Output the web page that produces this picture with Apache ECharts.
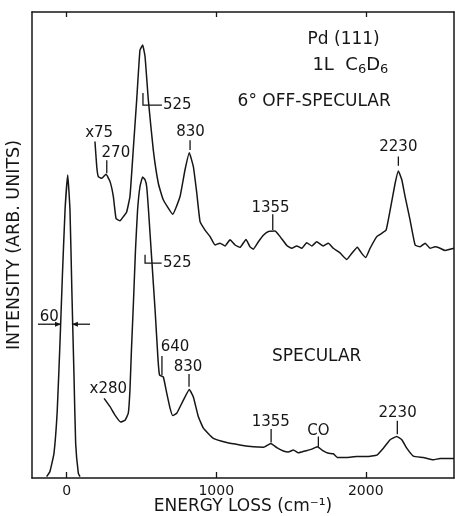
<!DOCTYPE html>
<html>
<head>
<meta charset="utf-8">
<script src="https://cdn.jsdelivr.net/npm/echarts@6/dist/echarts.min.js"></script>
<style>
html,body{margin:0;padding:0;background:#fff;}
#c{width:455px;height:516px;}
</style>
</head>
<body>
<div id="c"></div>
<script>
// ---- Data (energy loss in cm-1, intensity in arbitrary units 0..100) ----
const offSpecEnergy = [189,201,211,234,263,290,312,330,357,379,401,423,445,468,490,508,524,546,579,613,646,709,758,791,820,847,870,892,925,959,992,1025,1059,1092,1126,1159,1199,1226,1248,1282,1315,1349,1393,1427,1472,1505,1538,1572,1605,1639,1672,1716,1750,1783,1828,1873,1906,1944,1973,2000,2029,2074,2107,2136,2163,2196,2218,2241,2263,2296,2330,2363,2397,2430,2463,2497,2530,2564,2590];
const offSpecIntensity = [72.2,66.8,64.7,64.3,65.2,63.6,60.4,55.7,55.2,56.1,57.1,60.4,70.4,81.1,91.8,92.9,90.4,81.1,70.4,63.2,59.7,56.6,60.4,66.1,69.8,66.8,61.1,55.0,53.2,51.8,50.0,50.4,49.8,51.1,50.0,49.5,51.2,49.6,49.1,50.7,52.1,52.9,53.0,51.8,49.9,49.3,49.8,49.3,50.5,49.8,50.7,49.8,50.4,49.3,48.3,46.9,48.2,49.5,48.2,47.3,49.3,51.8,52.5,53.2,57.5,63.2,65.9,64.0,60.4,55.4,50.0,49.6,50.4,49.3,49.6,49.3,48.8,49.1,49.3];

const specEnergy = [250,290,323,361,390,412,423,433,447,460,474,490,508,524,535,547,569,591,611,621,646,669,691,709,736,780,820,847,880,914,981,1070,1159,1248,1315,1365,1405,1449,1482,1516,1549,1594,1639,1676,1716,1750,1783,1810,1873,1940,2007,2074,2118,2163,2207,2241,2274,2318,2385,2452,2497,2590];
const specIntensity = [17.1,15.3,13.5,12.0,12.4,13.9,18.9,27.5,38.2,48.9,57.5,62.5,64.6,64.0,62.5,57.5,46.8,36.1,25.3,22.1,21.7,18.2,15.0,13.4,13.9,16.7,19.0,17.4,13.2,10.7,8.5,7.6,7.1,6.7,6.6,7.4,6.5,5.8,5.6,6.0,5.4,5.8,6.2,6.7,5.8,5.3,5.2,4.4,4.4,4.6,4.6,4.9,6.4,8.2,8.9,8.2,6.4,4.7,4.4,3.9,4.2,4.2];

const elasticEnergy = [-134,-112,-85,-63,-45,-29,-11,7,22,35,49,60,78,89];
const elasticIntensity = [0.3,1.4,5.3,14.6,28.9,43.2,57.5,65.0,57.5,39.6,21.7,7.4,1.0,0.3];

const xTickValues = [0,1000,2000];
const xTickLabels = ['0','1000','2000'];

const pairs = (xs, ys) => xs.map((x,i) => [x, ys[i]]);

const FONT = 'DejaVu Sans';
const INK = '#161616';

const chart = echarts.init(document.getElementById('c'), null, {renderer:'canvas'});

const lineSeries = (name, data) => ({
  name, type:'line', data, showSymbol:false, smooth:0.12, animation:false,
  lineStyle:{color:INK, width:1.5}, silent:true
});

const frameLine = {onZero:false, lineStyle:{color:INK, width:1.5}};

chart.setOption({
  animation:false,
  backgroundColor:'#fff',
  grid:{left:32, right:1, top:12, bottom:38, containLabel:false, outerBoundsMode:'none'},
  xAxis:[{
    type:'value', min:-232, max:2590, position:'bottom',
    axisLine:frameLine,
    axisTick:{inside:true, length:6, customValues:xTickValues, lineStyle:{color:INK, width:1.3}},
    axisLabel:{customValues:xTickValues, formatter:(v)=>xTickLabels[xTickValues.indexOf(v)] ?? '', color:INK, fontFamily:FONT, fontSize:14, margin:6},
    splitLine:{show:false},
    name:'ENERGY LOSS (cm⁻¹)', nameLocation:'middle', nameGap:20, nameMoveOverlap:false,
    nameTextStyle:{color:INK, fontFamily:FONT, fontSize:17}
  },{
    type:'value', min:-232, max:2590, position:'top',
    axisLine:frameLine,
    axisTick:{inside:true, length:5, customValues:xTickValues, lineStyle:{color:INK, width:1.3}},
    axisLabel:{show:false}, splitLine:{show:false}
  }],
  yAxis:[{
    type:'value', min:0, max:100, position:'left',
    axisLine:Object.assign({show:true}, frameLine),
    axisTick:{show:false}, axisLabel:{show:false}, splitLine:{show:false},
    name:'INTENSITY (ARB. UNITS)', nameLocation:'middle', nameGap:9, nameRotate:90, nameMoveOverlap:false,
    nameTextStyle:{color:INK, fontFamily:FONT, fontSize:17.5}
  },{
    type:'value', min:0, max:100, position:'right',
    axisLine:Object.assign({show:true}, frameLine),
    axisTick:{show:false}, axisLabel:{show:false}, splitLine:{show:false}
  }],
  series:[
    lineSeries('6° off-specular', pairs(offSpecEnergy, offSpecIntensity)),
    lineSeries('specular', pairs(specEnergy, specIntensity)),
    lineSeries('elastic', pairs(elasticEnergy, elasticIntensity))
  ]
});

// ---- Annotations (anchored in data coordinates) ----
const P = (e, i) => chart.convertToPixel({gridIndex:0}, [e, i]);
const g = [];
const txt = (e, i, text, opt={}) => {
  const [x,y] = P(e,i);
  g.push({type:'text', x, y, silent:true, style:Object.assign({text, fill:INK, font:`${opt.size||15}px "${FONT}"`, align:opt.align||'center', verticalAlign:'middle'}, opt.style||{})});
};
const seg = (pts) => {
  g.push({type:'polyline', silent:true, shape:{points:pts.map(p=>P(p[0],p[1]))}, style:{stroke:INK, lineWidth:1.3, fill:null}});
};

// top panel labels
txt(1852, 94.0, 'Pd (111)', {size:17});
g.push((()=>{const [x,y]=P(1897,88.5); return {type:'text', x, y, silent:true, style:{text:'1L  C{s|6}D{s|6}', fill:INK, font:`18px "${FONT}"`, align:'center', verticalAlign:'middle', rich:{s:{fontSize:13, fontFamily:FONT, fill:INK, padding:[8,0,0,0]}}}};})());
txt(1655, 80.7, '6° OFF-SPECULAR', {size:17});

// off-specular annotations
seg([[510,82.6],[510,80.0],[637,80.0]]);
txt(644, 80.0, '525', {align:'left'});
txt(217, 74.0, 'x75');
txt(329, 69.7, '270');
seg([[268,68.2],[268,65.4]]);
txt(828, 74.3, '830');
seg([[825,72.5],[825,70.4]]);
txt(1363, 57.9, '1355');
seg([[1378,56.6],[1378,53.2]]);
txt(2218, 71.1, '2230');
seg([[2218,69.0],[2218,67.0]]);

// specular annotations
seg([[524,47.9],[524,46.1],[635,46.1]]);
txt(644, 46.1, '525', {align:'left'});
txt(-117, 34.6, '60');
// FWHM arrows
const arrow = (eFrom, eTo, i) => {
  seg([[eFrom,i],[eTo,i]]);
  const [x2,y2] = P(eTo,i);
  const d = eTo > eFrom ? -6 : 6;
  g.push({type:'polygon', silent:true, shape:{points:[[x2,y2],[x2+d,y2-2.5],[x2+d,y2+2.5]]}, style:{fill:INK}});
};
arrow(-192, -38, 33.0);
arrow(156, 35, 33.0);
txt(724, 28.0, '640');
seg([[637,26.2],[637,22.1]]);
txt(811, 23.8, '830');
seg([[818,22.3],[818,19.6]]);
txt(278, 19.1, 'x280');
txt(1672, 26.0, 'SPECULAR', {size:17});
txt(1365, 12.1, '1355');
seg([[1367,10.5],[1367,7.6]]);
txt(1683, 10.1, 'CO');
seg([[1683,8.9],[1683,6.7]]);
txt(2213, 13.9, '2230');
seg([[2211,12.3],[2211,9.4]]);

chart.setOption({graphic:g});
</script>
</body>
</html>
